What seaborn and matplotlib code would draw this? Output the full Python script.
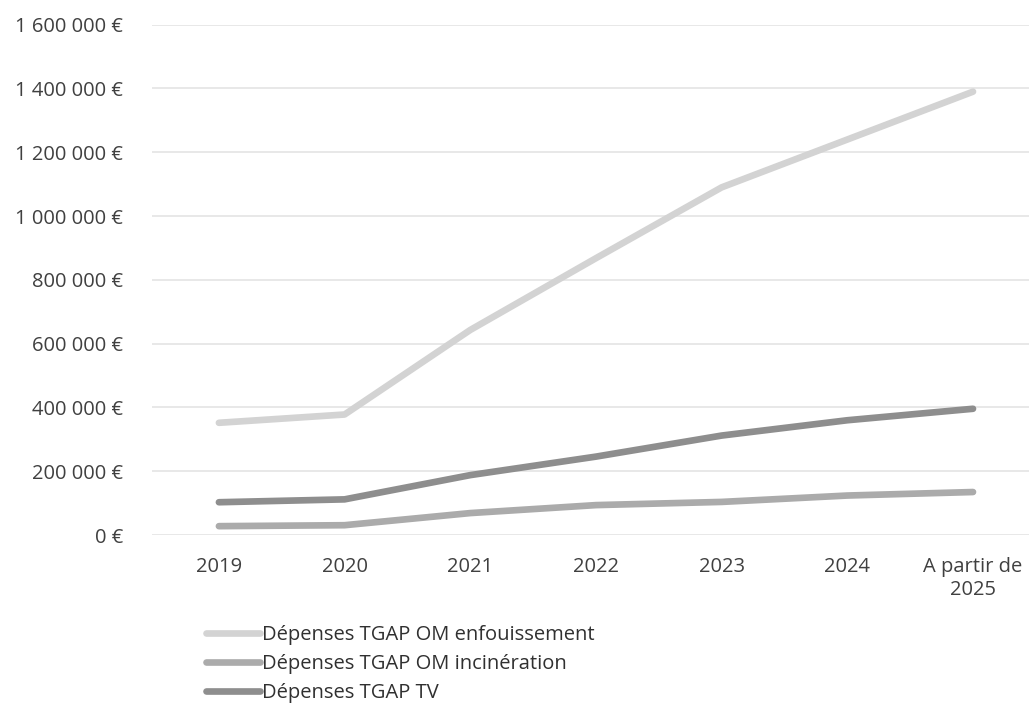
import numpy as np
import pandas as pd
import matplotlib
matplotlib.use('Agg')
import matplotlib.pyplot as plt
import seaborn as sns
from matplotlib.ticker import FuncFormatter

# Data
annees = ['2019', '2020', '2021', '2022', '2023', '2024', 'A partir de\n2025']
enfouissement = [352000, 378000, 643000, 868000, 1090000, 1240000, 1390000]
incineration = [28000, 31000, 69000, 94000, 104000, 124000, 135000]
tgap_tv = [103000, 112000, 188000, 246000, 312000, 360000, 396000]

series_names = ['Dépenses TGAP OM enfouissement',
                'Dépenses TGAP OM incinération',
                'Dépenses TGAP TV']
colors = ['#d3d3d3', '#ababab', '#8e8e8e']

df = pd.DataFrame({
    'Année': annees * 3,
    'Montant': enfouissement + incineration + tgap_tv,
    'Série': [series_names[0]] * 7 + [series_names[1]] * 7 + [series_names[2]] * 7,
})
df['pos'] = list(range(7)) * 3

sns.set_style('white')
plt.rcParams['font.family'] = ['Open Sans', 'DejaVu Sans']

fig = plt.figure(figsize=(10.29, 7.05), dpi=100)
ax = fig.add_axes([0.148, 0.241, 0.855, 0.724])

sns.lineplot(data=df, x='pos', y='Montant', hue='Série', palette=colors,
             hue_order=series_names, linewidth=4.8, sort=False, ax=ax,
             solid_capstyle='round')

ax.set_xlim(-0.53, 6.47)
ax.set_ylim(0, 1600000)
ax.set_yticks(np.arange(0, 1600001, 200000))
ax.set_xticks(range(7))
ax.set_xticklabels(annees)
ax.yaxis.set_major_formatter(FuncFormatter(lambda v, p: f'{int(v):,}'.replace(',', ' ') + ' €'))
ax.grid(axis='y', color='#e4e4e4', linewidth=1.2)
ax.set_axisbelow(True)
for s in ax.spines.values():
    s.set_visible(False)
ax.tick_params(axis='both', length=0, labelsize=14.5, colors='#404040')
ax.tick_params(axis='x', pad=16)
ax.tick_params(axis='y', pad=21)
ax.set_xlabel('')
ax.set_ylabel('')

handles, labels = ax.get_legend_handles_labels()
ax.legend(handles, labels, loc='upper left', bbox_to_anchor=(0.04, -0.14),
          frameon=False, fontsize=14.5, handlelength=2.7, handletextpad=0.1,
          labelspacing=0.45, labelcolor='#303030')

fig.savefig('out.png', dpi=100)
